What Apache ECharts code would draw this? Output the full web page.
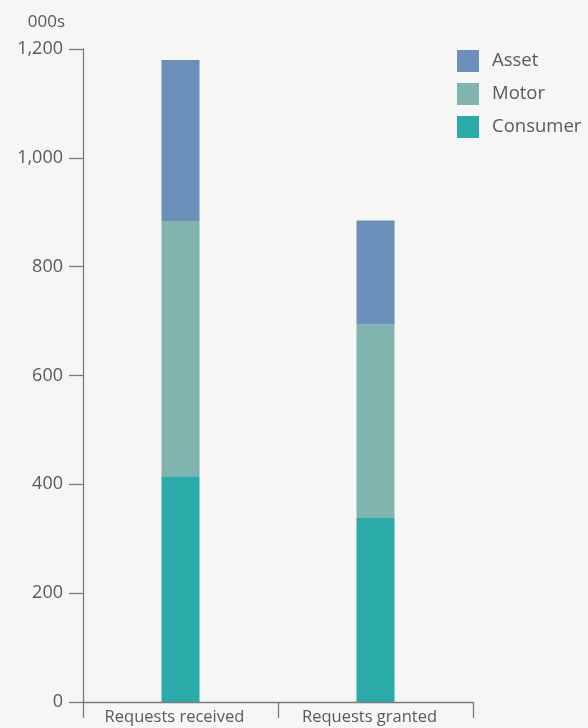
<!DOCTYPE html>
<html>
<head>
<meta charset="utf-8">
<script src="https://cdn.jsdelivr.net/npm/echarts@6/dist/echarts.min.js"></script>
<style>
html,body{margin:0;padding:0;background:#f6f6f4;}
#c{width:588px;height:728px;}
</style>
</head>
<body>
<div id="c"></div>
<script>
const categories = ['Requests received', 'Requests granted'];
const consumer = [415, 338];
const motor = [469, 356];
const asset = [296, 191];
const yTicks = { min: 0, max: 1200, interval: 200 };
const unitLabel = '000s';

const colors = { Asset: '#6a8fb8', Motor: '#7fb5ae', Consumer: '#2aabaa' };
const font = '"Open Sans", "Noto Sans", sans-serif';
const textColor = '#5a5a5a';
const axisColor = '#7a7a7a';

const chart = echarts.init(document.getElementById('c'), null, { renderer: 'canvas' });

function mkSeries(name, data) {
  return {
    name: name, type: 'bar', stack: 'total', data: data, barWidth: 38,
    itemStyle: { color: colors[name] },
    emphasis: { disabled: true }
  };
}

chart.setOption({
  backgroundColor: '#f6f6f4',
  animation: false,
  textStyle: { fontFamily: font },
  grid: { left: 83, right: 115, top: 49, bottom: 26, containLabel: false },
  legend: {
    data: ['Asset', 'Motor', 'Consumer'],
    orient: 'vertical', left: 457, top: 50,
    itemWidth: 22, itemHeight: 22, itemGap: 11,
    icon: 'rect',
    textStyle: { fontFamily: font, fontSize: 18.5, color: textColor, padding: [0, 0, 0, 8] },
    padding: 0
  },
  xAxis: {
    type: 'category', data: categories,
    axisLine: { show: true, lineStyle: { color: axisColor, width: 1.3 } },
    axisTick: { show: true, alignWithLabel: false, length: 16, lineStyle: { color: axisColor, width: 1.3 } },
    axisLabel: { fontFamily: font, fontSize: 16.5, color: textColor, margin: 7, padding: [0, 12, 0, 0] }
  },
  yAxis: {
    type: 'value', min: yTicks.min, max: yTicks.max, interval: yTicks.interval,
    name: unitLabel, nameLocation: 'end', nameGap: 18,
    nameTextStyle: { fontFamily: font, fontSize: 17, color: textColor, align: 'right', padding: [0, 18, 0, 0] },
    axisLine: { show: true, lineStyle: { color: axisColor, width: 1.3 } },
    axisTick: { show: true, length: 14, lineStyle: { color: axisColor, width: 1.3 } },
    splitLine: { show: false },
    axisLabel: {
      fontFamily: font, fontSize: 18, color: textColor, margin: 20,
      formatter: v => v.toLocaleString('en-US')
    }
  },
  series: [
    mkSeries('Consumer', consumer),
    mkSeries('Motor', motor),
    mkSeries('Asset', asset)
  ]
});
</script>
</body>
</html>
